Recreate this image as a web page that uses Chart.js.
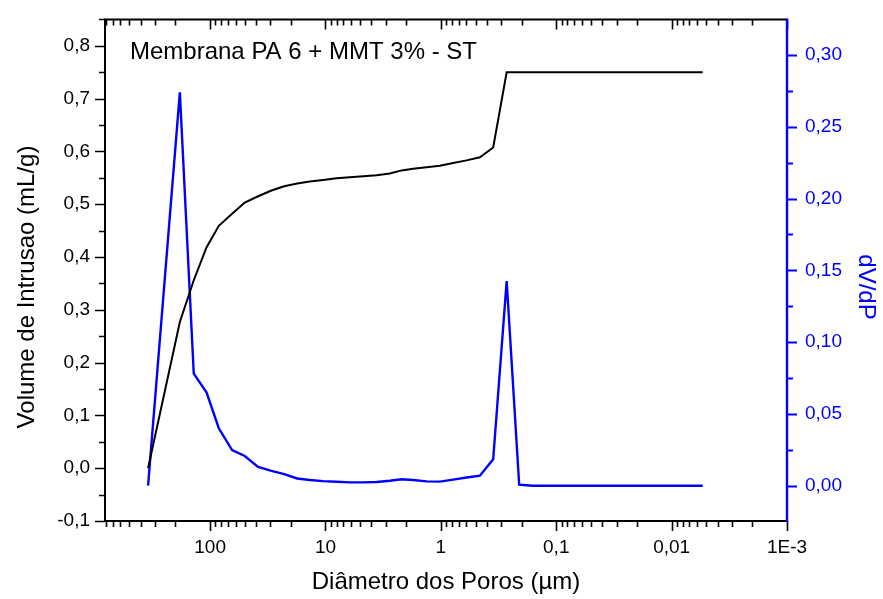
<!DOCTYPE html>
<html>
<head>
<meta charset="utf-8">
<script src="https://cdn.jsdelivr.net/npm/chart.js@4/dist/chart.umd.min.js"></script>
<style>
html,body{margin:0;padding:0;background:#fff;}
#wrap{width:883px;height:599px;}
</style>
</head>
<body>
<div id="wrap"><canvas id="c" width="883" height="599"></canvas></div>
<script>
// Pore diameter (µm)
const diameters = [345, 183, 138.6, 107.5, 84.1, 64.5, 50.1, 38.4, 29.4, 22.8, 17.6, 13.7, 10.5, 8.02, 6.15, 4.72, 3.61, 2.77, 2.19, 1.74, 1.33, 1.02, 0.782, 0.599, 0.459, 0.352, 0.269, 0.2095, 0.160, 0.123, 0.0942, 0.0721, 0.0553, 0.0424, 0.0325, 0.0248, 0.0190, 0.0146, 0.0112, 0.00857, 0.00657, 0.00538];
// Cumulative intrusion volume (mL/g)
const volume = [0.0, 0.277, 0.356, 0.418, 0.459, 0.482, 0.503, 0.515, 0.526, 0.534, 0.539, 0.543, 0.546, 0.549, 0.551, 0.553, 0.555, 0.558, 0.564, 0.567, 0.570, 0.573, 0.578, 0.583, 0.589, 0.6075, 0.750, 0.750, 0.750, 0.750, 0.750, 0.750, 0.750, 0.750, 0.750, 0.750, 0.750, 0.750, 0.750, 0.750, 0.750, 0.750];
// dV/dP
const dvdp = [0.0, 0.274, 0.078, 0.065, 0.040, 0.0248, 0.0207, 0.0131, 0.0103, 0.0081, 0.0050, 0.0040, 0.0032, 0.0027, 0.0023, 0.0023, 0.0026, 0.0034, 0.0045, 0.0040, 0.0030, 0.0028, 0.0042, 0.0057, 0.0070, 0.0184, 0.1426, 0.0007, 0.0, 0.0, 0.0, 0.0, 0.0, 0.0, 0.0, 0.0, 0.0, 0.0, 0.0, 0.0, 0.0, 0.0];

const xTickValues = [100, 10, 1, 0.1, 0.01, 0.001];
const xTickLabels = ["100", "10", "1", "0,1", "0,01", "1E-3"];
const leftTickValues = [-0.1, 0.0, 0.1, 0.2, 0.3, 0.4, 0.5, 0.6, 0.7, 0.8];
const rightTickValues = [0.0, 0.05, 0.10, 0.15, 0.20, 0.25, 0.30];

const chartTitle = "Membrana PA 6 + MMT 3% - ST";
const xTitle = "Diâmetro dos Poros (µm)";
const yLeftTitle = "Volume de Intrusao (mL/g)";
const yRightTitle = "dV/dP";

const FONT = "'Liberation Sans', Arial, sans-serif";
const BLUE = "#0000ff";

const ticksPlugin = {
  id: 'originTicks',
  afterDraw(chart) {
    const ctx = chart.ctx;
    const ca = chart.chartArea;
    const sx = chart.scales.x, sy = chart.scales.y, sy2 = chart.scales.y2;
    ctx.save();
    ctx.lineCap = 'butt';
    ctx.strokeStyle = '#000'; ctx.lineWidth = 2;
    ctx.beginPath();
    ctx.moveTo(ca.left, ca.top); ctx.lineTo(ca.right, ca.top);
    ctx.moveTo(ca.left, ca.bottom); ctx.lineTo(ca.right, ca.bottom);
    ctx.moveTo(ca.left, ca.top - 1); ctx.lineTo(ca.left, ca.bottom + 1);
    ctx.stroke();
    ctx.lineWidth = 1.6;
    ctx.beginPath();
    for (let e = -3; e <= 3; e++) {
      for (let k = 1; k <= 9; k++) {
        const v = k * Math.pow(10, e);
        if (v < sx.min || v > sx.max) continue;
        const px = Math.round(sx.getPixelForValue(v)) + 0.5;
        const len = k === 1 ? 10 : 6;
        ctx.moveTo(px, ca.bottom); ctx.lineTo(px, ca.bottom + len);
        ctx.moveTo(px, ca.top); ctx.lineTo(px, ca.top + len);
      }
    }
    ctx.stroke();
    ctx.beginPath();
    for (let i = -2; i <= 17; i++) {
      const v = i * 0.05;
      if (v < sy.min - 1e-9 || v > sy.max + 1e-9) continue;
      const py = Math.round(sy.getPixelForValue(v)) + 0.5;
      const len = (i % 2 === 0) ? 10 : 6;
      ctx.moveTo(ca.left, py); ctx.lineTo(ca.left - len, py);
    }
    ctx.stroke();
    ctx.strokeStyle = BLUE; ctx.lineWidth = 2.4;
    ctx.beginPath();
    ctx.moveTo(ca.right, ca.top - 1); ctx.lineTo(ca.right, ca.bottom + 1);
    ctx.stroke();
    ctx.lineWidth = 1.8;
    ctx.beginPath();
    for (let i = -1; i <= 13; i++) {
      const v = i * 0.025;
      if (v < sy2.min - 1e-9 || v > sy2.max + 1e-9) continue;
      const py = Math.round(sy2.getPixelForValue(v)) + 0.5;
      const len = (i % 2 === 0) ? 10 : 6;
      ctx.moveTo(ca.right, py); ctx.lineTo(ca.right + len, py);
    }
    ctx.stroke();
    ctx.fillStyle = '#000';
    ctx.font = "24px " + FONT;
    ctx.textBaseline = 'middle';
    ctx.textAlign = 'left';
    ctx.fillText(chartTitle, 130, 52);
    ctx.textAlign = 'center';
    ctx.fillText(xTitle, (ca.left + ca.right) / 2, 582);
    ctx.save();
    ctx.translate(27, 287);
    ctx.rotate(-Math.PI / 2);
    ctx.fillText(yLeftTitle, 0, 0);
    ctx.restore();
    ctx.save();
    ctx.fillStyle = BLUE;
    ctx.translate(866, 287);
    ctx.rotate(Math.PI / 2);
    ctx.fillText(yRightTitle, 0, 0);
    ctx.restore();
    ctx.restore();
  }
};

new Chart(document.getElementById('c'), {
  type: 'line',
  data: {
    datasets: [
      {
        label: 'Volume',
        data: diameters.map((d, i) => ({x: d, y: volume[i]})),
        borderColor: '#000', borderWidth: 2, pointRadius: 0, tension: 0, yAxisID: 'y'
      },
      {
        label: 'dV/dP',
        data: diameters.map((d, i) => ({x: d, y: dvdp[i]})),
        borderColor: BLUE, borderWidth: 2.4, pointRadius: 0, tension: 0, yAxisID: 'y2'
      }
    ]
  },
  options: {
    responsive: false,
    animation: false,
    events: [],
    layout: {padding: {top: 15, left: 0, right: 0, bottom: 0}},
    plugins: {legend: {display: false}, tooltip: {enabled: false}},
    scales: {
      x: {
        type: 'logarithmic', reverse: true, min: 0.001, max: 815, position: 'bottom',
        border: {display: false},
        grid: {display: false, drawTicks: true, tickLength: 10},
        afterBuildTicks: s => { s.ticks = xTickValues.map(v => ({value: v})); },
        afterFit: s => { s.height = 78; },
        ticks: {
          autoSkip: false, maxRotation: 0, padding: 5, color: '#000',
          font: {family: FONT, size: 19},
          callback: (v, i) => xTickLabels[i]
        }
      },
      y: {
        type: 'linear', position: 'left', min: -0.1, max: 0.85,
        border: {display: false},
        grid: {display: false, drawTicks: true, tickLength: 10},
        afterBuildTicks: s => { s.ticks = leftTickValues.map(v => ({value: v})); },
        afterFit: s => { s.width = 105; },
        ticks: {
          padding: 5, color: '#000', font: {family: FONT, size: 19},
          callback: v => v.toFixed(1).replace('.', ',')
        }
      },
      y2: {
        type: 'linear', position: 'right', min: -0.0246, max: 0.3248,
        border: {display: false},
        grid: {display: false, drawTicks: true, tickLength: 10},
        afterBuildTicks: s => { s.ticks = rightTickValues.map(v => ({value: v})); },
        afterFit: s => { s.width = 96; },
        ticks: {
          padding: 8, color: BLUE, font: {family: FONT, size: 19},
          callback: v => v.toFixed(2).replace('.', ',')
        }
      }
    }
  },
  plugins: [ticksPlugin]
});
</script>
</body>
</html>
